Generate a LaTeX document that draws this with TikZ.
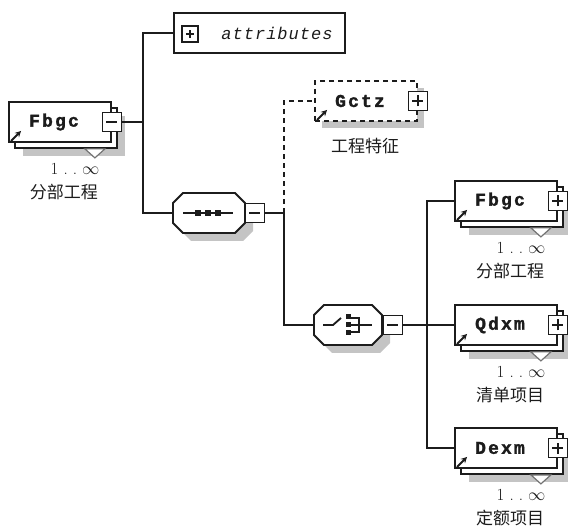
\documentclass[tikz,border=0pt]{standalone}
\usepackage{fontspec}
\usepackage{tikz}
\usetikzlibrary{arrows.meta, positioning, shadows}
\newfontfamily\elfont[LetterSpace=12, BoldFeatures={FakeBold=1.6}]{Liberation Mono}
\newfontfamily\attfont[LetterSpace=6]{Liberation Mono}
\newfontfamily\cjkfont{Noto Sans CJK SC}
\definecolor{xsdLine}{HTML}{1C1C1C}
\definecolor{xsdShade}{HTML}{C4C4C4}

\begin{document}
\begin{tikzpicture}[
  x=1pt, y=-1pt, line width=1.8pt, color=xsdLine,
  elem/.style={draw, fill=white, minimum width=102pt, minimum height=40pt, inner sep=0pt,
               general shadow={shadow xshift=14pt, shadow yshift=-14pt, fill=xsdShade, draw=none},
               general shadow={shadow xshift=6pt, shadow yshift=-6pt, fill=white, draw=xsdLine, line width=1.8pt}},
  optelem/.style={draw, dash pattern=on 5pt off 4pt, fill=white, minimum width=102pt, minimum height=40pt,
                  inner sep=0pt, general shadow={shadow xshift=7pt, shadow yshift=-7pt, fill=xsdShade, draw=none}},
  attbox/.style={draw, fill=white, minimum width=171pt, minimum height=40pt, inner sep=0pt},
  comp/.style={minimum height=40pt, inner sep=0pt},
  btn/.style={draw, fill=white, minimum size=19pt, inner sep=0pt},
  minusbtn/.style={btn, path picture={
      \draw ([xshift=4pt]path picture bounding box.west) -- ([xshift=-4pt]path picture bounding box.east);}},
  plusbtn/.style={btn, path picture={
      \draw ([xshift=4pt]path picture bounding box.west) -- ([xshift=-4pt]path picture bounding box.east)
            ([yshift=4pt]path picture bounding box.south) -- ([yshift=-4pt]path picture bounding box.north);}},
  elname/.style={font=\elfont\bfseries\fontsize{18}{18}\selectfont},
  occurs/.style={font=\fontsize{17}{17}\selectfont},
  caption/.style={font=\cjkfont\fontsize{17}{17}\selectfont},
  icon/.style={-{Stealth[length=6pt, width=6pt]}, line width=2pt},
]
  \useasboundingbox (0,0) rectangle (568,529);

  \node[elem]    (root)   at (60,122)  {};
  \node[attbox]  (attr)   at (259.5,33) {};
  \node[comp, minimum width=72pt] (seq)    at (209,213) {};
  \node[optelem] (gctz)   at (366,101) {};
  \node[comp, minimum width=68pt] (choice) at (348,325) {};
  \node[elem]    (fbgc)   at (506,201) {};
  \node[elem]    (qdxm)   at (506,325) {};
  \node[elem]    (dexm)   at (506,448) {};

  % compositor octagons
  \foreach \c/\a in {seq/36, choice/34} {
    \begin{scope}[shift={(\c.center)}]
      \fill[xsdShade, shift={(8,8)}] (-\a,-10) -- (-\a+10,-20) -- (\a-10,-20) -- (\a,-10)
        -- (\a,10) -- (\a-10,20) -- (-\a+10,20) -- (-\a,10) -- cycle;
      \draw[fill=white] (-\a,-10) -- (-\a+10,-20) -- (\a-10,-20) -- (\a,-10)
        -- (\a,10) -- (\a-10,20) -- (-\a+10,20) -- (-\a,10) -- cycle;
    \end{scope}
  }

  \node[plusbtn, minimum size=16pt] (attrbtn) at (190,34) {};
  \node[font=\attfont\itshape\fontsize{17}{17}\selectfont] (attrnm) at (277,33) {attributes};
  \node[minusbtn] (seqbtn)    at ([xshift=9pt]seq.east) {};
  \node[plusbtn]  (gctzbtn)   at (gctz.east) {};
  \node[minusbtn] (choicebtn) at ([xshift=10pt]choice.east) {};

  % element names, multiplicity and captions
  \foreach \el/\nm/\cap/\b in {root/Fbgc/分部工程/minusbtn, fbgc/Fbgc/分部工程/plusbtn,
                               qdxm/Qdxm/清单项目/plusbtn, dexm/Dexm/定额项目/plusbtn} {
    \node[\b] (\el-btn) at (\el.east) {};
    \draw[fill=white, draw=black!55, line width=1.2pt]
      ([shift={(-27,6)}]\el.south east) -- ++(10,9) -- ++(10,-9) -- cycle;
    \draw[icon] ([shift={(3,-2)}]\el.south west) -- ++(10,-10);
    \node[elname] (\el-nm) at ([xshift=-6pt]\el.center) {\nm};
    \node[occurs] (\el-occ) at ([shift={(15,47)}]\el.center) {1\hspace{5pt}.\hspace{5pt}.\hspace{5pt}$\infty$};
    \node[caption] (\el-cap) at ([shift={(4,70)}]\el.center) {\cap};
  }

  \draw[icon] ([shift={(3,-2)}]gctz.south west) -- ++(10,-10);
  \node[elname] (gctznm) at ([xshift=-6pt]gctz.center) {Gctz};
  \node[caption] (gctzcap) at ([shift={(-1,45)}]gctz.center) {工程特征};

  % compositor symbols
  \begin{scope}[shift={(seq.center)}]
    \draw (-26,0) -- (24,0);
    \foreach \dx in {-11,-1,9}
      \fill (\dx-3,-3) rectangle (\dx+3,3);
  \end{scope}
  \begin{scope}[shift={(choice.center)}]
    \draw (-25,0) -- (-15,0) -- (-7,-7);
    \foreach \dy in {-11,-3,5}
      \fill (-2.5,\dy) rectangle (2.5,\dy+5);
    \draw (3,-7) -- (11,-7) -- (11,7) -- (3,7);
    \draw (3,0) -- (24,0);
  \end{scope}

  \coordinate (j1) at (143,122);
  \coordinate (j2) at (284,213);
  \coordinate (j3) at (427,325);

  \draw (root-btn.east) -- (j1);
  \draw (attr.west) -| (j1) |- (seq.west);
  \draw (seqbtn.east) -- (j2);
  \draw[dash pattern=on 5pt off 4pt] (j2) |- (gctz.west);
  \draw (j2) |- (choice.west);
  \draw (choicebtn.east) -- (j3);
  \draw (fbgc.west) -| (j3) |- (dexm.west);
  \draw (j3) -- (qdxm.west);
\end{tikzpicture}
\end{document}
